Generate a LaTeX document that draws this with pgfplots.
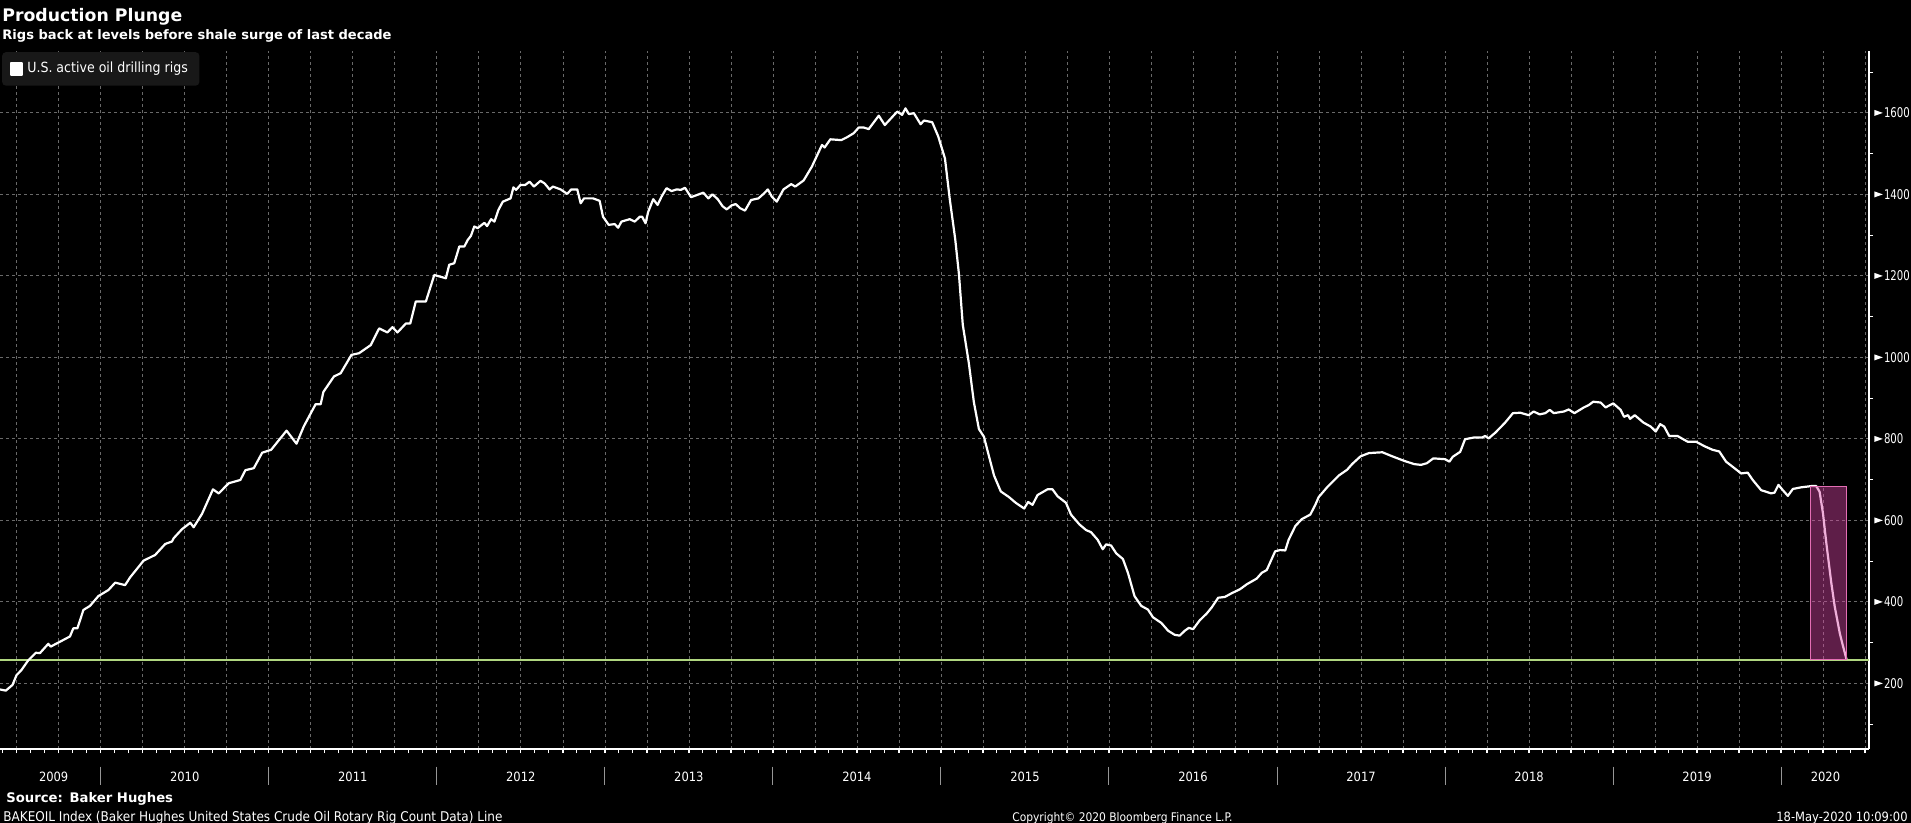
\documentclass[border=0pt]{standalone}
\usepackage{graphicx}
\usepackage{pgfplots}
\pgfplotsset{compat=1.18}
\usepackage{pgfplotstable}
\usepackage{fontspec}
\setmainfont{DejaVu Sans}
\newfontfamily\condfont{DejaVu Sans Condensed}
\definecolor{gridgray}{RGB}{105,105,105}
\definecolor{legendbg}{RGB}{24,24,24}
\definecolor{limegreen}{RGB}{176,214,128}
\definecolor{boxfill}{RGB}{219,70,167}
\definecolor{boxborder}{RGB}{228,110,180}
\definecolor{sepgray}{RGB}{150,150,150}

\pgfplotstableread{
x y
2009.401 185
2009.435 182
2009.475 196
2009.499 220
2009.529 233
2009.568 256
2009.614 275
2009.638 274
2009.688 297
2009.702 290
2009.817 315
2009.837 335
2009.861 335
2009.897 380
2009.936 390
2009.986 414
2010.046 429
2010.086 447
2010.145 441
2010.175 460
2010.255 501
2010.324 515
2010.384 542
2010.424 548
2010.434 556
2010.483 578
2010.533 594
2010.553 583
2010.603 616
2010.668 676
2010.702 666
2010.762 691
2010.831 699
2010.861 723
2010.911 728
2010.961 766
2011.014 773
2011.106 820
2011.165 788
2011.209 831
2011.279 885
2011.309 885
2011.325 915
2011.388 953
2011.428 961
2011.492 1006
2011.537 1010
2011.607 1030
2011.657 1071
2011.706 1061
2011.736 1074
2011.766 1061
2011.816 1083
2011.842 1083
2011.875 1137
2011.935 1137
2011.985 1202
2012.054 1194
2012.074 1227
2012.104 1231
2012.134 1272
2012.164 1272
2012.184 1288
2012.203 1298
2012.223 1321
2012.243 1317
2012.283 1330
2012.299 1322
2012.323 1339
2012.343 1333
2012.367 1362
2012.393 1382
2012.439 1390
2012.456 1417
2012.472 1411
2012.498 1423
2012.526 1423
2012.552 1431
2012.578 1419
2012.617 1433
2012.641 1427
2012.671 1412
2012.691 1419
2012.737 1412
2012.776 1401
2012.800 1412
2012.836 1412
2012.856 1378
2012.876 1390
2012.930 1390
2012.969 1384
2012.989 1345
2013.023 1325
2013.059 1327
2013.079 1318
2013.099 1333
2013.148 1339
2013.178 1333
2013.208 1345
2013.222 1345
2013.242 1329
2013.258 1357
2013.288 1388
2013.314 1374
2013.337 1394
2013.367 1415
2013.397 1408
2013.427 1412
2013.453 1411
2013.477 1416
2013.513 1393
2013.586 1404
2013.616 1390
2013.640 1400
2013.672 1388
2013.700 1371
2013.725 1363
2013.755 1373
2013.779 1376
2013.805 1366
2013.834 1360
2013.870 1386
2013.914 1390
2013.944 1401
2013.970 1412
2013.994 1394
2014.023 1382
2014.063 1412
2014.109 1425
2014.133 1419
2014.183 1434
2014.232 1468
2014.292 1521
2014.308 1515
2014.342 1535
2014.407 1533
2014.441 1540
2014.481 1550
2014.511 1564
2014.540 1564
2014.570 1560
2014.630 1593
2014.666 1570
2014.740 1603
2014.769 1595
2014.789 1611
2014.809 1597
2014.839 1599
2014.879 1572
2014.899 1581
2014.948 1577
2014.984 1542
2015.024 1488
2015.052 1390
2015.085 1290
2015.107 1205
2015.130 1080
2015.166 986
2015.196 890
2015.226 824
2015.256 805
2015.286 757
2015.316 710
2015.356 671
2015.405 657
2015.445 643
2015.495 629
2015.519 645
2015.545 638
2015.575 662
2015.634 676
2015.664 676
2015.694 659
2015.744 643
2015.774 614
2015.824 590
2015.864 576
2015.893 571
2015.933 552
2015.963 529
2015.983 541
2016.013 538
2016.043 519
2016.083 505
2016.113 471
2016.152 414
2016.192 390
2016.232 381
2016.262 362
2016.312 348
2016.352 329
2016.391 319
2016.421 317
2016.451 329
2016.475 336
2016.501 333
2016.541 355
2016.581 371
2016.611 386
2016.650 410
2016.690 412
2016.730 421
2016.780 431
2016.820 443
2016.879 457
2016.909 471
2016.939 478
2016.989 524
2017.019 527
2017.049 526
2017.069 552
2017.109 586
2017.148 603
2017.198 614
2017.228 638
2017.248 657
2017.298 681
2017.368 710
2017.417 724
2017.447 738
2017.497 757
2017.547 765
2017.627 767
2017.686 757
2017.756 746
2017.816 738
2017.856 736
2017.891 740
2017.930 752
2018.000 750
2018.026 744
2018.046 756
2018.090 768
2018.119 799
2018.169 803
2018.219 803
2018.239 807
2018.259 801
2018.299 815
2018.358 840
2018.404 863
2018.448 864
2018.498 858
2018.527 867
2018.563 860
2018.597 863
2018.623 871
2018.647 863
2018.707 867
2018.736 872
2018.770 863
2018.826 877
2018.856 883
2018.882 891
2018.926 889
2018.955 877
2019.001 887
2019.045 871
2019.065 854
2019.089 858
2019.101 849
2019.129 858
2019.180 840
2019.224 830
2019.254 818
2019.280 836
2019.304 830
2019.334 807
2019.383 807
2019.443 793
2019.493 793
2019.543 782
2019.592 773
2019.632 769
2019.672 744
2019.722 728
2019.762 715
2019.801 717
2019.831 699
2019.881 674
2019.941 666
2019.961 668
2019.984 687
2020.010 674
2020.040 660
2020.070 677
2020.120 681
2020.180 684
2020.209 684
2020.229 670
2020.249 617
2020.269 544
2020.299 445
2020.319 388
2020.349 323
2020.369 290
2020.389 259
}\rigs

\begin{document}
\begin{tikzpicture}
\fill[black] (0pt,0pt) rectangle (955.5pt,-411.5pt);
\path[use as bounding box] (0pt,0pt) rectangle (955.5pt,-411.5pt);
\begin{axis}[
  at={(0pt,-25.5pt)}, anchor=north west,
  scale only axis, width=934.5pt, height=349pt,
  xmin=2009.4006, xmax=2020.523, ymin=38.8, ymax=1751.7,
  axis x line*=bottom, axis y line*=right,
  axis line style={white, line width=1pt},
  clip=false,
  scaled x ticks=false,
  xtick={2009.5,2009.75,...,2020.5},
  xticklabels={},
  minor xtick={2009.41667,2009.5,...,2020.51},
  ytick={200,400,...,1600},
  minor ytick={100,300,...,1700},
  tick align=outside,
  tick style={white, line width=0.5pt},
  major tick length=2pt, minor tick length=2pt,
  major y tick style={draw=none},
  xmajorgrids=true, ymajorgrids=true,
  major grid style={gridgray, line width=0.5pt, dash pattern=on 1.5pt off 1.5pt},
  ticklabel style={font=\condfont\fontsize{6.4}{7}\selectfont, text=white},
  yticklabel style={anchor=west, inner sep=0pt, xshift=0.5pt, font=\condfont\fontsize{6.7}{7}\selectfont},
  yticklabel={\raisebox{0.9pt}{\tikz\fill[white] (0pt,0pt) -- (0pt,3pt) -- (4.2pt,1.5pt) -- cycle;}\hspace{0.6pt}\scalebox{0.84}[1]{\pgfmathprintnumber[assume math mode=true,1000 sep={}]{\tick}}},
  extra x ticks={2009.72,2010.5,2011.5,2012.5,2013.5,2014.5,2015.5,2016.5,2017.5,2018.5,2019.5,2020.264},
  extra x tick labels={2009,2010,2011,2012,2013,2014,2015,2016,2017,2018,2019,2020},
  extra x tick style={grid=none, major tick length=0pt, xticklabel style={anchor=base, yshift=-16.35pt}},
  legend style={at={(0.0009,0.999)}, anchor=north west, draw=none, fill=legendbg,
    rounded corners=2pt, inner xsep=3.8pt, inner ysep=3pt, text=white,
    font=\condfont\fontsize{7}{8}\selectfont},
  legend cell align=left,
  legend image code/.code={\fill[white, sharp corners] (0pt,-2.85pt) rectangle (5.7pt,2.85pt);},
]
\addplot[limegreen, line width=1pt, forget plot] coordinates {(2009.4006,258) (2020.523,258)};
\addplot[white, line width=1.1pt, line join=round] table[x=x,y=y] {\rigs};
\addlegendentry{U.S. active oil drilling rigs}
\addplot[draw=boxborder, line width=0.5pt, fill=boxfill, fill opacity=0.43, forget plot]
  coordinates {(2020.176,258) (2020.176,682) (2020.391,682) (2020.391,258)} -- cycle;
\pgfplotsinvokeforeach{2010,2011,...,2020}{
  \draw[sepgray, line width=0.5pt] ([yshift=-8.85pt]axis cs:#1,38.8) -- ([yshift=-18pt]axis cs:#1,38.8);
}
\end{axis}
\begin{scope}[x=0.5pt,y=-0.5pt]
\node[anchor=base west, inner sep=0pt, text=white, font=\bfseries\fontsize{8.65}{10}\selectfont] at (2,21.7) {Production Plunge};
\node[anchor=base west, inner sep=0pt, text=white, font=\bfseries\fontsize{6.53}{7}\selectfont] at (2,39.3) {Rigs back at levels before shale surge of last decade};
\node[anchor=base west, inner sep=0pt, text=white, font=\bfseries\fontsize{6.6}{7}\selectfont] at (6,802.3) {Source:\hspace{0.5em}Baker Hughes};
\node[anchor=base west, inner sep=0pt, text=white, font=\condfont\fontsize{6.7}{7}\selectfont] at (3,821.5) {BAKEOIL Index (Baker Hughes United States Crude Oil Rotary Rig Count Data) Line};
\node[anchor=base, inner sep=0pt, text=white, font=\condfont\fontsize{5.95}{7}\selectfont] at (1122.5,821.5) {Copyright\textcopyright{} 2020 Bloomberg Finance L.P.};
\node[anchor=base east, inner sep=0pt, text=white, font=\condfont\fontsize{6.4}{7}\selectfont] at (1908,821.5) {18-May-2020 10:09:00};
\end{scope}
\end{tikzpicture}
\end{document}
